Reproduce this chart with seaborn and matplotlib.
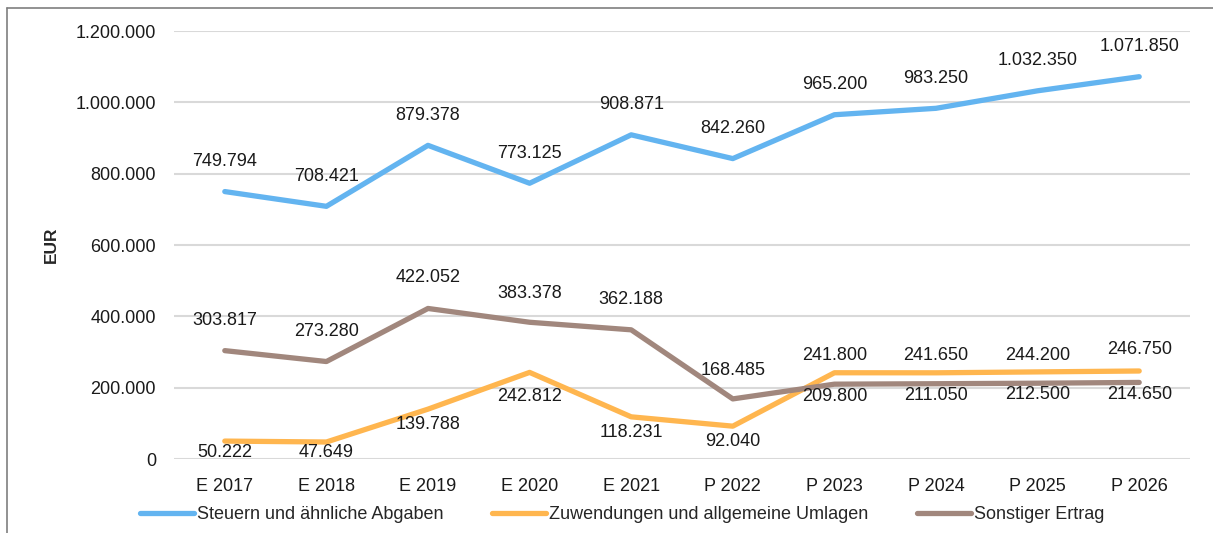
import numpy as np
import pandas as pd
import seaborn as sns
import matplotlib.pyplot as plt
from matplotlib.lines import Line2D

# Daten
jahre = ["E 2017", "E 2018", "E 2019", "E 2020", "E 2021",
         "P 2022", "P 2023", "P 2024", "P 2025", "P 2026"]
steuern = [749794, 708421, 879378, 773125, 908871, 842260, 965200, 983250, 1032350, 1071850]
zuwendungen = [50222, 47649, 139788, 242812, 118231, 92040, 241800, 241650, 244200, 246750]
sonstiger = [303817, 273280, 422052, 383378, 362188, 168485, 209800, 211050, 212500, 214650]

namen = ["Steuern und ähnliche Abgaben",
         "Zuwendungen und allgemeine Umlagen",
         "Sonstiger Ertrag"]
farben = ["#63b4f0", "#ffb64f", "#a1877d"]

# Abstand der Datenbeschriftung (Pixel, + = oberhalb, - = unterhalb)
versatz_steuern = [30] * 10
versatz_zuw = [-11, -10, -15, -24, -16, -15, 17, 17, 16, 21]
versatz_sonst = [30, 30, 31, 29, 30, 28, -12, -12, -11, -12]

df = pd.DataFrame({
    "Jahr": jahre * 3,
    "Wert": steuern + zuwendungen + sonstiger,
    "Reihe": [namen[0]] * 10 + [namen[1]] * 10 + [namen[2]] * 10,
})

sns.set_style("white")
plt.rcParams["font.family"] = ["Liberation Sans", "DejaVu Sans"]

fig = plt.figure(figsize=(12.13, 5.33), dpi=100)
ax = fig.add_axes([174 / 1213, 1 - 459 / 533, (1190 - 174) / 1213, (459 - 31) / 533])

sns.lineplot(data=df, x="Jahr", y="Wert", hue="Reihe", palette=farben,
             linewidth=3.8, sort=False, ax=ax, legend=False,
             solid_capstyle="round")

def fmt(v):
    return f"{v:,}".replace(",", ".")

for werte, versatz in [(steuern, versatz_steuern), (zuwendungen, versatz_zuw),
                       (sonstiger, versatz_sonst)]:
    for i, (v, o) in enumerate(zip(werte, versatz)):
        ax.annotate(fmt(v), (i, v), xytext=(0, o * 0.72), textcoords="offset points",
                    ha="center", va="center", fontsize=13, color="#1a1a1a")

ax.set_xlim(-0.5, 9.5)
ax.set_ylim(0, 1200000)
ax.set_yticks(np.arange(0, 1200001, 200000))
ax.set_yticklabels([fmt(int(t)) for t in np.arange(0, 1200001, 200000)])
ax.grid(axis="y", color="#d9d9d9", linewidth=1.5)
ax.set_axisbelow(True)
for s in ax.spines.values():
    s.set_visible(False)
ax.tick_params(axis="both", length=0, labelsize=13, colors="#1a1a1a")
ax.tick_params(axis="y", pad=13)
ax.tick_params(axis="x", pad=14)
ax.set_xlabel("")
ax.set_ylabel("EUR", fontsize=12.5, fontweight="bold", labelpad=12)

handles = [Line2D([], [], color=c, linewidth=3.8, solid_capstyle="round") for c in farben]
fig.legend(handles, namen, loc="center", bbox_to_anchor=(0.513, 0.034), ncol=3,
           frameon=False, fontsize=13, handlelength=3.0, handletextpad=0.15,
           columnspacing=2.7)

# Rahmen oben und links
fig.add_artist(Line2D([7 / 1213, 7 / 1213], [0, 1 - 7.5 / 533], color="#7f7f7f",
                      linewidth=1.2, transform=fig.transFigure))
fig.add_artist(Line2D([7 / 1213, 1], [1 - 7.5 / 533, 1 - 7.5 / 533], color="#7f7f7f",
                      linewidth=1.2, transform=fig.transFigure))

fig.savefig("out.png", dpi=100)
